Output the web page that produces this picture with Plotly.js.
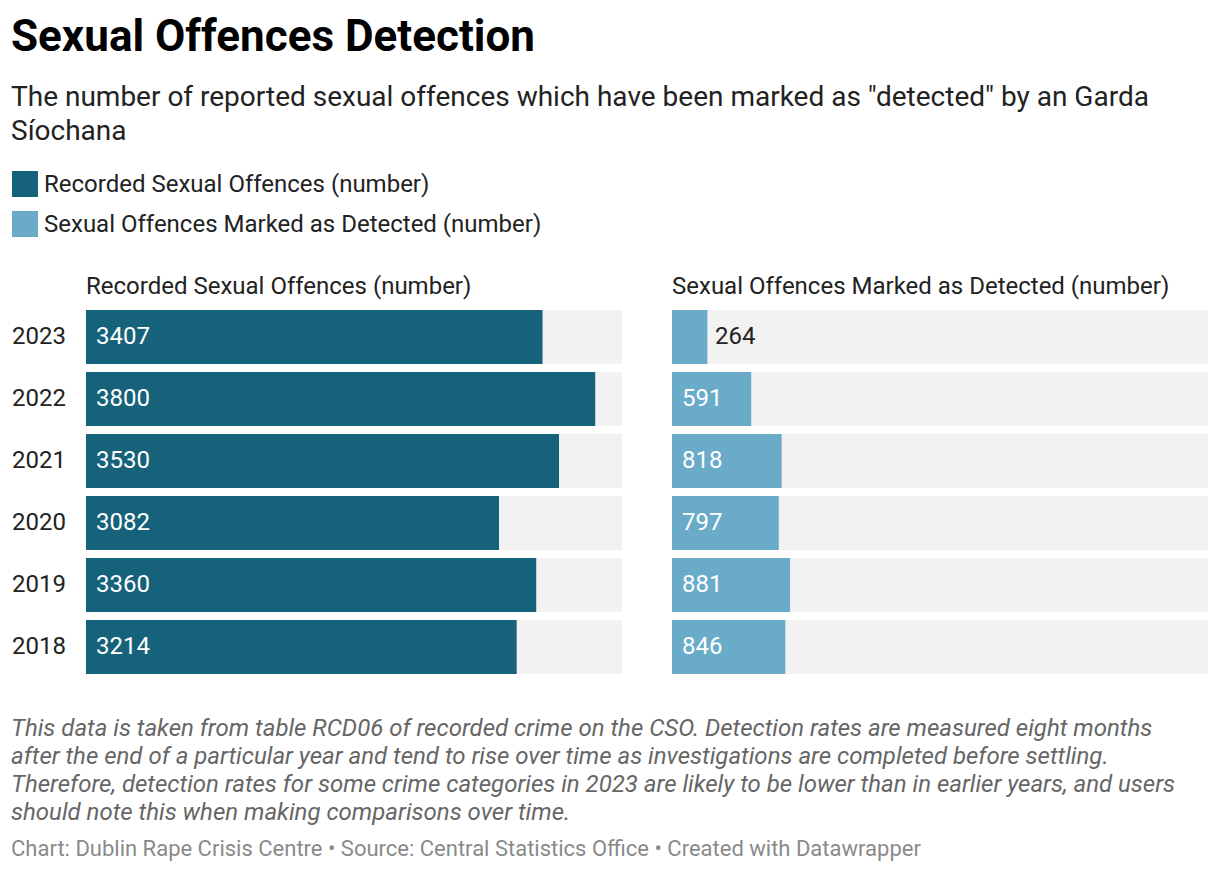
<!DOCTYPE html>
<html>
<head>
<meta charset="utf-8">
<script src="https://cdn.plot.ly/plotly-3.0.1.min.js"></script>
<style>
html,body{margin:0;padding:0;background:#fff;}
#chart{width:1220px;height:872px;}
</style>
</head>
<body>
<div id="chart"></div>
<script>
// ---- data ----
const years = ["2023", "2022", "2021", "2020", "2019", "2018"];
const recorded = [3407, 3800, 3530, 3082, 3360, 3214];
const detected = [264, 591, 818, 797, 881, 846];
const seriesNames = ["Recorded Sexual Offences (number)", "Sexual Offences Marked as Detected (number)"];
const axisMax = 4000;

const titleText = "Sexual Offences Detection";
const subtitleLines = ["The number of reported sexual offences which have been marked as \"detected\" by an Garda", "Síochana"];
const noteLines = [
  "This data is taken from table RCD06 of recorded crime on the CSO. Detection rates are measured eight months",
  "after the end of a particular year and tend to rise over time as investigations are completed before settling.",
  "Therefore, detection rates for some crime categories in 2023 are likely to be lower than in earlier years, and users",
  "should note this when making comparisons over time."
];
const creditText = "Chart: Dublin Rape Crisis Centre • Source: Central Statistics Office • Created with Datawrapper";

// ---- styles ----
const W = 1220, H = 872;
const dark = "#17627b", light = "#6aabc9", bg = "#f2f2f2";
const FONT = "Roboto, sans-serif";
const px = x => x / W;
const py = y => (H - y) / H;

const rev = a => a.slice().reverse();
const yCats = rev(years);
const catIndex = yr => yCats.indexOf(yr);

function bgTrace(xa, ya) {
  return {type: "bar", orientation: "h", y: yCats, x: yCats.map(() => axisMax),
    xaxis: xa, yaxis: ya, marker: {color: bg}, width: 54/62, hoverinfo: "skip", showlegend: false};
}
function dataTrace(vals, color, xa, ya, name) {
  return {type: "bar", orientation: "h", y: yCats, x: rev(vals), name: name,
    xaxis: xa, yaxis: ya, marker: {color: color}, width: 54/62, showlegend: false};
}

const traces = [
  bgTrace("x", "y"), dataTrace(recorded, dark, "x", "y", seriesNames[0]),
  bgTrace("x2", "y2"), dataTrace(detected, light, "x2", "y2", seriesNames[1])
];

const annotations = [];
function valueLabels(vals, xref, yref) {
  years.forEach((yr, i) => {
    const v = vals[i];
    const inside = v > 400;
    annotations.push({xref: xref, yref: yref, x: inside ? 0 : v, y: catIndex(yr), xanchor: "left", yanchor: "middle",
      xshift: inside ? 8 : 6, yshift: 1, showarrow: false, text: String(v),
      font: {family: FONT, size: 24, color: inside ? "#ffffff" : "#222222"}});
  });
}
valueLabels(recorded, "x", "y");
valueLabels(detected, "x2", "y2");

years.forEach(yr => {
  annotations.push({xref: "paper", yref: "y", x: px(10), y: catIndex(yr), xanchor: "left", yanchor: "middle",
    yshift: 1, showarrow: false, text: yr, font: {family: FONT, size: 24, color: "#222222"}});
});

// panel titles
annotations.push({xref: "paper", yref: "paper", x: px(84), y: py(286), xanchor: "left", yanchor: "middle",
  showarrow: false, text: seriesNames[0], font: {family: FONT, size: 24, color: "#222222"}});
annotations.push({xref: "paper", yref: "paper", x: px(670), y: py(286), xanchor: "left", yanchor: "middle",
  showarrow: false, text: seriesNames[1], font: {family: FONT, size: 24, color: "#222222"}});

// title, subtitle
annotations.push({xref: "paper", yref: "paper", x: px(9), y: py(36), xanchor: "left", yanchor: "middle",
  showarrow: false, text: "<b>" + titleText + "</b>", font: {family: FONT, size: 44, color: "#000000"}});
subtitleLines.forEach((t, i) => {
  annotations.push({xref: "paper", yref: "paper", x: px(9), y: py(97 + i * 33), xanchor: "left", yanchor: "middle",
    showarrow: false, text: t, font: {family: FONT, size: 28, color: "#222222"}});
});

// legend
const shapes = [];
[dark, light].forEach((c, i) => {
  const top = 171 + i * 40;
  shapes.push({type: "rect", xref: "paper", yref: "paper", x0: px(12), x1: px(38), y0: py(top + 26), y1: py(top),
    fillcolor: c, line: {width: 0}});
  annotations.push({xref: "paper", yref: "paper", x: px(42), y: py(top + 13), xanchor: "left", yanchor: "middle",
    showarrow: false, text: seriesNames[i], font: {family: FONT, size: 24, color: "#222222"}});
});

// notes
noteLines.forEach((t, i) => {
  annotations.push({xref: "paper", yref: "paper", x: px(9), y: py(728 + i * 28), xanchor: "left", yanchor: "middle",
    showarrow: false, text: "<i>" + t + "</i>", font: {family: FONT, size: 24, color: "#666666"}});
});
annotations.push({xref: "paper", yref: "paper", x: px(9), y: py(848), xanchor: "left", yanchor: "middle",
  showarrow: false, text: creditText, font: {family: FONT, size: 22, color: "#8a8a8a"}});

const hidden = {showticklabels: false, showgrid: false, zeroline: false, showline: false, ticks: "", fixedrange: true};
const yDomain = [py(678), py(306)];
const layout = {
  width: W, height: H, margin: {l: 0, r: 0, t: 0, b: 0},
  paper_bgcolor: "#ffffff", plot_bgcolor: "#ffffff",
  barmode: "overlay", showlegend: false,
  font: {family: FONT},
  xaxis: Object.assign({domain: [px(86), px(622)], range: [0, axisMax], anchor: "y"}, hidden),
  xaxis2: Object.assign({domain: [px(672), px(1208)], range: [0, axisMax], anchor: "y2"}, hidden),
  yaxis: Object.assign({domain: yDomain, type: "category", range: [-0.5, 5.5], anchor: "x"}, hidden),
  yaxis2: Object.assign({domain: yDomain, type: "category", range: [-0.5, 5.5], anchor: "x2"}, hidden),
  annotations: annotations, shapes: shapes
};
Plotly.newPlot("chart", traces, layout, {displayModeBar: false, staticPlot: true});
</script>
</body>
</html>
